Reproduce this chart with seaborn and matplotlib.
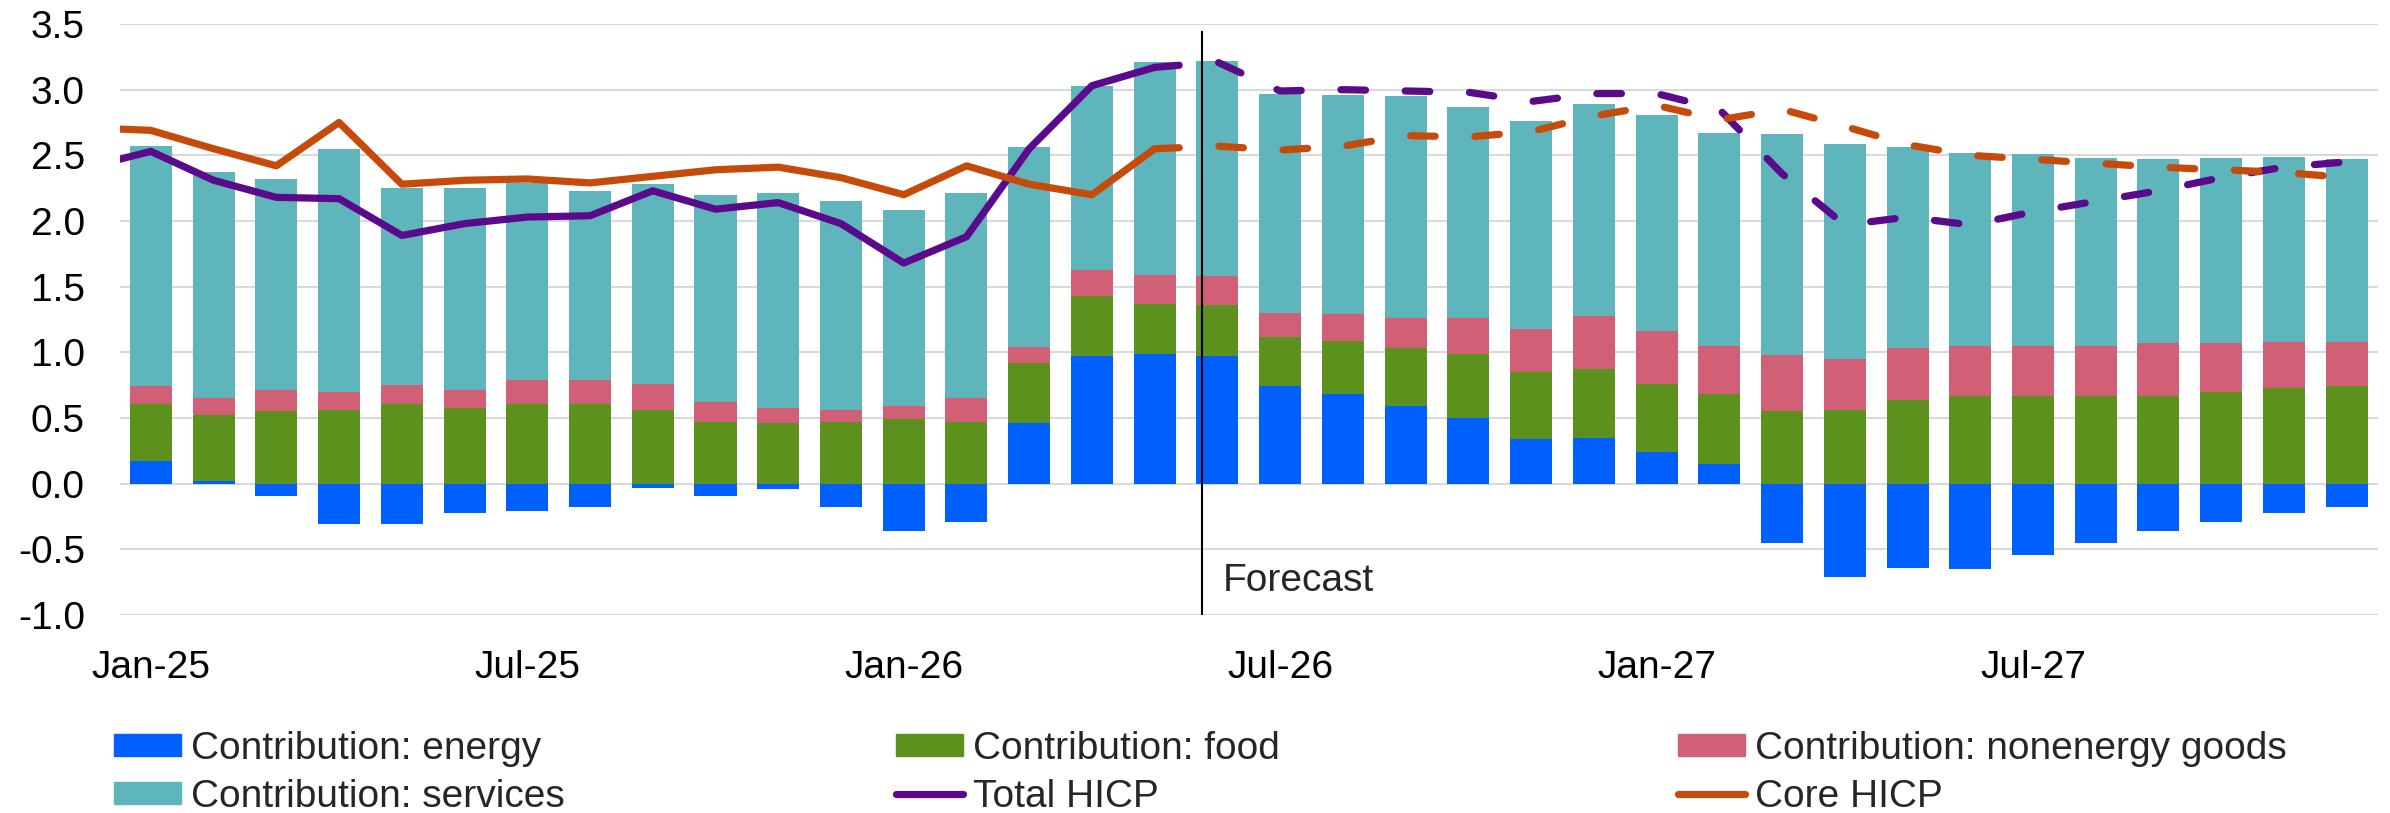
import matplotlib
matplotlib.use("Agg")
import matplotlib.pyplot as plt
import seaborn as sns
import numpy as np
import pandas as pd
from matplotlib.patches import Patch
from matplotlib.lines import Line2D

# bar categories: Jan-25 .. Dec-27
months = pd.date_range("2025-01-01", "2027-12-01", freq="MS").strftime("%b-%y").tolist()

# contributions (pp)
energy = [0.17, 0.02, -0.09, -0.31, -0.31, -0.22, -0.21, -0.18, -0.03, -0.09, -0.04, -0.18,
          -0.36, -0.29, 0.46, 0.97, 0.99, 0.97, 0.74, 0.68, 0.59, 0.50, 0.34, 0.35,
          0.24, 0.15, -0.45, -0.71, -0.64, -0.65, -0.54, -0.45, -0.36, -0.29, -0.22, -0.18]
food = [0.44, 0.50, 0.55, 0.56, 0.61, 0.58, 0.61, 0.61, 0.56, 0.47, 0.46, 0.47,
        0.49, 0.47, 0.46, 0.46, 0.38, 0.39, 0.38, 0.41, 0.44, 0.49, 0.51, 0.52,
        0.52, 0.53, 0.55, 0.56, 0.64, 0.67, 0.67, 0.67, 0.67, 0.70, 0.73, 0.74]
nonenergy = [0.13, 0.13, 0.16, 0.14, 0.14, 0.13, 0.18, 0.18, 0.20, 0.15, 0.12, 0.09,
             0.10, 0.18, 0.12, 0.20, 0.22, 0.22, 0.18, 0.20, 0.23, 0.27, 0.33, 0.41,
             0.40, 0.37, 0.43, 0.39, 0.39, 0.38, 0.38, 0.38, 0.40, 0.37, 0.35, 0.34]
services = [1.83, 1.72, 1.61, 1.85, 1.50, 1.54, 1.50, 1.44, 1.52, 1.58, 1.63, 1.59,
            1.49, 1.56, 1.52, 1.40, 1.62, 1.64, 1.67, 1.67, 1.69, 1.61, 1.58, 1.61,
            1.65, 1.62, 1.68, 1.64, 1.53, 1.47, 1.46, 1.43, 1.40, 1.41, 1.41, 1.39]

# headline lines start one month earlier (Dec-24), clipped at the axis edge
line_months = ["Dec-24"] + months
total_hicp = [2.41,
              2.53, 2.31, 2.18, 2.17, 1.89, 1.98, 2.03, 2.04, 2.23, 2.09, 2.14, 1.98,
              1.68, 1.88, 2.55, 3.03, 3.17, 3.21, 2.99, 3.00, 2.99, 2.98, 2.91, 2.97,
              2.97, 2.85, 2.36, 1.97, 2.03, 1.97, 2.07, 2.15, 2.23, 2.33, 2.41, 2.45]
core_hicp = [2.71,
             2.69, 2.55, 2.42, 2.75, 2.28, 2.31, 2.32, 2.29, 2.34, 2.39, 2.41, 2.33,
             2.20, 2.42, 2.28, 2.20, 2.55, 2.57, 2.54, 2.57, 2.65, 2.64, 2.68, 2.80,
             2.88, 2.77, 2.85, 2.72, 2.58, 2.50, 2.47, 2.44, 2.41, 2.39, 2.37, 2.33]
last_actual = "May-26"
forecast_x = 16.75

c_energy = "#0060FF"
c_food = "#5D911D"
c_nonenergy = "#D15F75"
c_services = "#5FB5BC"
c_total = "#5A0A8A"
c_core = "#C64B0A"

sns.set_theme(style="white")
plt.rcParams["font.family"] = ["Liberation Sans", "DejaVu Sans"]
plt.rcParams["axes.unicode_minus"] = False
FS = 28

df = pd.DataFrame({"month": months, "energy": energy, "food": food,
                   "nonenergy": nonenergy, "services": services})
base = df["energy"].clip(lower=0).to_numpy()

fig = plt.figure(figsize=(23.9, 8.13), dpi=100)
ax = fig.add_axes([0.05, 0.2435, 0.945, 0.727])

layers = [("energy", np.zeros(len(df)), c_energy),
          ("food", base, c_food),
          ("nonenergy", base + df["food"].to_numpy(), c_nonenergy),
          ("services", base + df["food"].to_numpy() + df["nonenergy"].to_numpy(), c_services)]
for col, bottom, color in layers:
    sns.barplot(data=df, x="month", y=col, bottom=bottom, color=color, saturation=1,
                width=0.67, errorbar=None, linewidth=0, ax=ax, zorder=2)

# lines: solid through last actual month, dashed afterwards
xl = np.arange(len(line_months)) - 1
cut = line_months.index(last_actual) + 1
dash = (0, (3.4, 5.5))
for vals, color in [(total_hicp, c_total), (core_hicp, c_core)]:
    vals = np.array(vals)
    ax.plot(xl[:cut], vals[:cut], color=color, lw=5.2, solid_capstyle="round",
            solid_joinstyle="round", zorder=4)
    ax.plot(xl[cut - 1:], vals[cut - 1:], color=color, lw=5.2, linestyle=dash,
            dash_capstyle="round", zorder=4)

ax.vlines(forecast_x, -1.0, 3.45, color="black", lw=1.5, zorder=5)
ax.text(forecast_x + 0.33, -0.82, "Forecast", fontsize=FS, va="baseline", ha="left")

ax.set_xlim(-0.5, len(months) - 0.5)
ax.set_ylim(-1.0, 3.5)
yt = np.arange(-1.0, 3.51, 0.5)
ax.set_yticks(yt)
ax.set_yticklabels([f"{v:.1f}" for v in yt])
xt = list(range(0, len(months), 6))
ax.set_xticks(xt)
ax.set_xticklabels([months[i] for i in xt])
ax.set_xlabel("")
ax.set_ylabel("")
ax.tick_params(length=0, pad=25, labelsize=FS, colors="black")
ax.yaxis.grid(True, color="#D9D9D9", lw=1.5, zorder=0)
ax.xaxis.grid(False)
ax.set_axisbelow(True)
for s in ax.spines.values():
    s.set_visible(False)

# legend: three evenly spaced columns like the original
cols = [
    [Patch(color=c_energy, label="Contribution: energy"),
     Patch(color=c_services, label="Contribution: services")],
    [Patch(color=c_food, label="Contribution: food"),
     Line2D([], [], color=c_total, lw=5.2, solid_capstyle="round", label="Total HICP")],
    [Patch(color=c_nonenergy, label="Contribution: nonenergy goods"),
     Line2D([], [], color=c_core, lw=5.2, solid_capstyle="round", label="Core HICP")],
]
for x0, handles in zip([0.0477, 0.3749, 0.7021], cols):
    fig.legend(handles=handles, loc="upper left", bbox_to_anchor=(x0, 0.101),
               frameon=False, fontsize=FS, borderpad=0, borderaxespad=0,
               handlelength=1.72, handleheight=0.5, handletextpad=0.26,
               labelspacing=0.3)

fig.savefig("out.png", dpi=100)
